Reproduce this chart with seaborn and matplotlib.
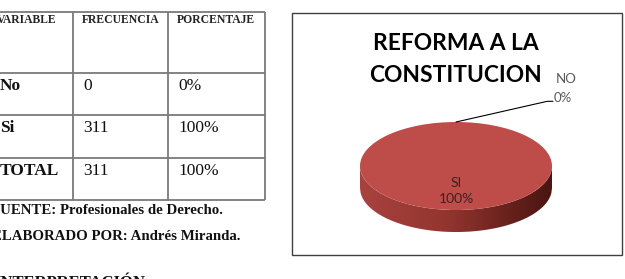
import numpy as np
import matplotlib
matplotlib.use("Agg")
import matplotlib.pyplot as plt
from matplotlib.colors import LinearSegmentedColormap
from matplotlib.patches import Polygon
import seaborn as sns

# ---------------- data ----------------
table_columns = ["VARIABLE", "FRECUENCIA", "PORCENTAJE"]
variables = ["No", "Si", "TOTAL"]
frecuencia = [0, 311, 311]
porcentaje = ["0%", "100%", "100%"]
fuente = "FUENTE: Profesionales de Derecho."
elaborado = "ELABORADO POR: Andrés Miranda."
interpretacion = "INTERPRETACIÓN"

chart_title = ["REFORMA A LA", "CONSTITUCION"]
pie_labels = ["NO", "SI"]
pie_values = [0, 311]

# ---------------- style ----------------
sns.set_theme(style="white")
plt.rcParams["font.family"] = ["DejaVu Sans"]

W, H = 625, 279
fig = plt.figure(figsize=(W / 100, H / 100), dpi=100)
fig.patch.set_facecolor("white")

# background axes in pixel coordinates
bg = fig.add_axes([0, 0, 1, 1])
bg.set_xlim(0, W)
bg.set_ylim(H, 0)
bg.axis("off")

# ---------------- table ----------------
line_c = "#7a7a7a"
col_x = [-4, 73, 168, 265]
row_y = [12, 73, 115, 158, 200]
for x in col_x:
    bg.plot([x, x], [row_y[0], row_y[-1]], color=line_c, lw=1.3, solid_capstyle="butt")
for y in row_y:
    bg.plot([col_x[0], col_x[-1]], [y, y], color=line_c, lw=1.3, solid_capstyle="butt")

serif = "Liberation Serif"
text_x = [-3, 82, 177]
for i, name in enumerate(table_columns):
    bg.text(text_x[i], 14, name, family=serif, weight="bold", fontsize=8.4,
            va="top", ha="left", color="#222222")

for r in range(len(variables)):
    yc = (row_y[r + 1] + row_y[r + 2]) / 2 - 8
    vals = [variables[r], str(frecuencia[r]), porcentaje[r]]
    for c, v in enumerate(vals):
        bg.text((0 if c == 0 else text_x[c] + 1), yc, v, family=serif,
                weight="bold" if c == 0 else "normal", fontsize=12.5,
                va="center", ha="left", color="#111111")

bg.text(-9, 210, fuente, family=serif, weight="bold", fontsize=10.7,
        va="center", ha="left", color="#111111")
bg.text(-8, 237, elaborado, family=serif, weight="bold", fontsize=10.7,
        va="center", ha="left", color="#111111")
bg.text(-6, 275, interpretacion, family=serif, weight="bold", fontsize=12,
        va="top", ha="left", color="#111111")

# ---------------- chart frame + title ----------------
bg.add_patch(plt.Rectangle((292, 13), 330, 242, fill=False, ec="#3f3f3f", lw=1.0))
bg.text(456, 43, chart_title[0], family="Lato", weight="bold", fontsize=16.4,
        ha="center", va="center", color="black")
bg.text(456, 75, chart_title[1], family="Lato", weight="bold", fontsize=16.4,
        ha="center", va="center", color="black")

# ---------------- 3D-looking pie ----------------
depth = 0.5
pax = fig.add_axes([360 / W, 1 - 232 / H, 192 / W, 110 / H])
pax.set_xlim(-1, 1)
pax.set_ylim(-1 - depth, 1)
pax.axis("off")

# side band with gradient
xs = np.linspace(-1, 1, 300)
top_arc = -np.sqrt(np.clip(1 - xs ** 2, 0, None))
pts = np.concatenate([np.column_stack([xs, top_arc]),
                      np.column_stack([xs[::-1], top_arc[::-1] - depth])])
band = Polygon(pts, closed=True, fc="none", ec="none")
pax.add_patch(band)
side_cmap = LinearSegmentedColormap.from_list(
    "side", [(0, "#a8423f"), (0.45, "#93352f"), (0.8, "#65201c"), (1, "#4a1512")])
grad = np.linspace(0, 1, 256).reshape(1, -1)
im = pax.imshow(grad, cmap=side_cmap, extent=[-1, 1, -1 - depth, 0],
                aspect="auto", zorder=1, interpolation="bilinear")
im.set_clip_path(band)

total = sum(pie_values)
pcts = [v / total * 100 for v in pie_values]
si_idx = pie_labels.index("SI")
no_idx = pie_labels.index("NO")
wedges, _ = pax.pie(pie_values, colors=["#be4d4a", "#be4d4a"], startangle=90,
                    counterclock=False, radius=1,
                    wedgeprops=dict(linewidth=0, zorder=2))
pax.set_aspect("auto")
pax.set_xlim(-1, 1)
pax.set_ylim(-1 - depth, 1)
for w in wedges:
    w.set_zorder(2)

# SI label at wedge centre
w = wedges[si_idx]
mid = np.deg2rad((w.theta1 + w.theta2) / 2)
d = 0.57
pax.text(d * np.cos(mid), d * np.sin(mid), f"{pie_labels[si_idx]}\n{pcts[si_idx]:.0f}%",
         family="Lato", fontsize=10, ha="center", va="center", color="#3a2222",
         linespacing=1.4, zorder=3)

# NO label with leader line
w = wedges[no_idx]
ang = np.deg2rad((w.theta1 + w.theta2) / 2)
tip = (np.cos(ang), np.sin(ang))
pax.plot([tip[0], 0.95, 1.01], [tip[1], 1.47, 1.47], color="black", lw=0.8,
         clip_on=False, zorder=3)
pax.text(1.15, 1.97, pie_labels[no_idx], family="Lato", fontsize=9.5,
         ha="center", va="center", color="#595959", clip_on=False)
pax.text(1.11, 1.55, f"{pcts[no_idx]:.0f}%", family="Lato", fontsize=9.5,
         ha="center", va="center", color="#595959", clip_on=False)

fig.savefig("out.png", dpi=100, facecolor="white")
